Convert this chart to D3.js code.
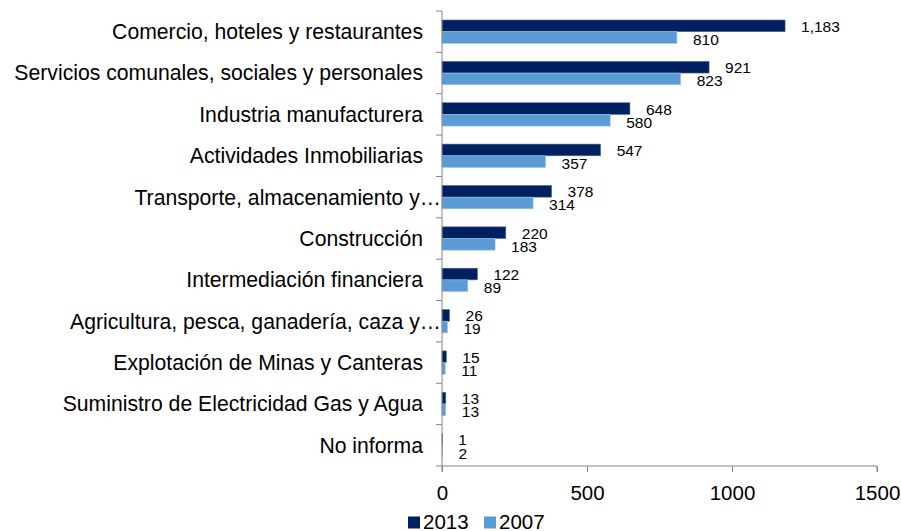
<!DOCTYPE html>
<html>
<head>
<meta charset="utf-8">
<script src="https://cdn.jsdelivr.net/npm/d3@7"></script>
<style>
  body { margin: 0; background: #fff; }
  svg { display: block; font-family: "Liberation Sans", Arial, sans-serif; }
</style>
</head>
<body>
<svg id="chart" width="901" height="531"></svg>
<script>
const categories = [
  "Comercio, hoteles y restaurantes",
  "Servicios comunales, sociales y personales",
  "Industria manufacturera",
  "Actividades Inmobiliarias",
  "Transporte, almacenamiento y…",
  "Construcción",
  "Intermediación financiera",
  "Agricultura, pesca, ganadería, caza y…",
  "Explotación de Minas y Canteras",
  "Suministro de Electricidad Gas y Agua",
  "No informa"
];
const seriesNames = ["2013", "2007"];
const values2013 = [1183, 921, 648, 547, 378, 220, 122, 26, 15, 13, 1];
const values2007 = [810, 823, 580, 357, 314, 183, 89, 19, 11, 13, 2];
const xTicks = [0, 500, 1000, 1500];
const colors = ["#002060", "#5B9BD5"];

(function () {
const svg = d3.select("#chart");
const pLeft = 442, pRight = 877, pTop = 11, pBottom = 466;

const x = d3.scaleLinear().domain([0, 1500]).range([pLeft, pRight]);
const y = d3.scaleBand().domain(categories).range([pTop, pBottom]).paddingInner(0).paddingOuter(0);
const groupFrac = 0.564;
const inner = d3.scaleBand().domain(seriesNames)
  .range([0, y.bandwidth() * groupFrac]);
const offset = y.bandwidth() * (1 - groupFrac) / 2;

const fmt = d3.format(",");
const seriesData = [values2013, values2007];
const labelShift = [0.5, 2];

// bars
seriesNames.forEach((s, si) => {
  const vals = seriesData[si];
  svg.append("g").selectAll("rect")
    .data(categories.map((c, i) => ({c, v: vals[i]})))
    .join("rect")
    .attr("x", x(0))
    .attr("y", d => y(d.c) + offset + inner(s))
    .attr("width", d => x(d.v) - x(0))
    .attr("height", inner.bandwidth())
    .attr("fill", colors[si])
    .attr("stroke", si === 0 ? "#4f6b9c" : "#9cc3e6")
    .attr("stroke-width", 0.6);
  svg.append("g").selectAll("text")
    .data(categories.map((c, i) => ({c, v: vals[i]})))
    .join("text")
    .attr("x", d => x(d.v) + 16)
    .attr("y", d => y(d.c) + offset + inner(s) + inner.bandwidth() / 2 + labelShift[si])
    .attr("dy", "0.35em")
    .attr("font-size", 15.5)
    .attr("fill", "#000")
    .text(d => fmt(d.v));
});

// y axis
const yAxis = svg.append("g").attr("transform", `translate(${pLeft},0)`);
yAxis.append("line").attr("x1", 0).attr("x2", 0).attr("y1", pTop).attr("y2", pBottom)
  .attr("stroke", "#868686").attr("stroke-width", 1);
const boundaries = categories.map(c => y(c)).concat([pBottom]);
yAxis.selectAll("line.tick").data(boundaries).join("line")
  .attr("class", "tick")
  .attr("x1", -6).attr("x2", 0)
  .attr("y1", d => d).attr("y2", d => d)
  .attr("stroke", "#868686");
svg.append("g").selectAll("text")
  .data(categories)
  .join("text")
  .attr("x", d => d.endsWith("…") ? 441 : 423)
  .attr("y", d => y(d) + y.bandwidth() / 2)
  .attr("dy", "0.35em")
  .attr("text-anchor", "end")
  .attr("font-size", 21.2)
  .attr("fill", "#000")
  .text(d => d);

// x axis
const xAxisG = svg.append("g").attr("transform", `translate(0,${pBottom})`)
  .call(d3.axisBottom(x).tickValues(xTicks).tickSize(6).tickPadding(13).tickFormat(d3.format("d")));
xAxisG.select(".domain").attr("stroke", "#868686").attr("d", `M${pLeft},6V0H${pRight}V6`);
xAxisG.selectAll(".tick line").attr("stroke", "#868686");
xAxisG.selectAll(".tick text").attr("font-size", 20.5).attr("fill", "#000")
  .attr("font-family", "Liberation Sans, Arial, sans-serif");

// legend
const legend = svg.append("g");
const legX = [408, 484];
seriesNames.forEach((s, i) => {
  legend.append("rect").attr("x", legX[i]).attr("y", 516.5).attr("width", 12).attr("height", 12)
    .attr("fill", colors[i]);
  legend.append("text").attr("x", legX[i] + 15).attr("y", 528.5)
    .attr("font-size", 20.5).attr("fill", "#000").text(s);
});
})();
</script>
</body>
</html>
